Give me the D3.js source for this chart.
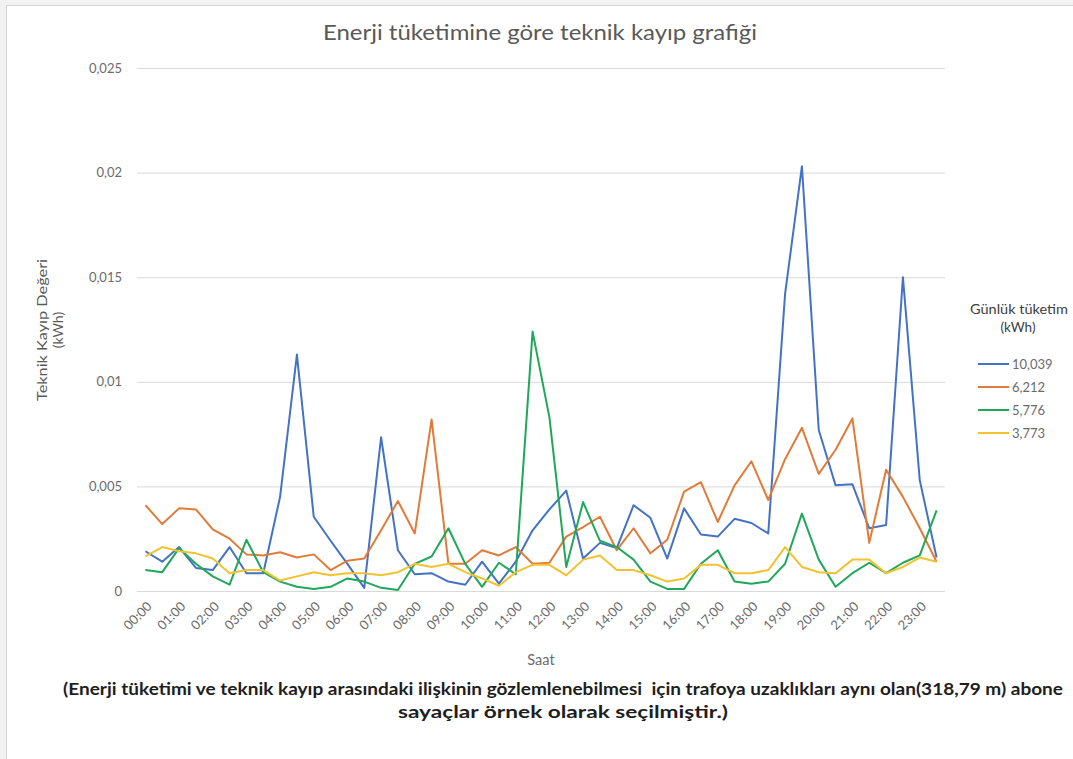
<!DOCTYPE html>
<html>
<head>
<meta charset="utf-8">
<script src="https://cdn.jsdelivr.net/npm/d3@7"></script>
<style>
  html, body { margin: 0; padding: 0; background: #f2f2f2; }
  svg { display: block; }
  text { font-family: "Lato", "Open Sans", sans-serif; }
</style>
</head>
<body>
<svg id="chart" width="1073" height="759"></svg>
<script>
// Half-hour time slots across the day
const times = ["00:00","00:30","01:00","01:30","02:00","02:30","03:00","03:30",
  "04:00","04:30","05:00","05:30","06:00","06:30","07:00","07:30",
  "08:00","08:30","09:00","09:30","10:00","10:30","11:00","11:30",
  "12:00","12:30","13:00","13:30","14:00","14:30","15:00","15:30",
  "16:00","16:30","17:00","17:30","18:00","18:30","19:00","19:30",
  "20:00","20:30","21:00","21:30","22:00","22:30","23:00","23:30"];

// Technical loss (kWh) per slot, one array per subscriber meter
const loss10039 = [0.0019,0.0014,0.0021,0.0011,0.0010,0.0021,0.00085,0.00085,
  0.0045,0.0113,0.00355,0.0024,0.0013,0.00015,0.00735,0.00195,
  0.0008,0.00085,0.00045,0.0003,0.0014,0.00035,0.0014,0.0029,
  0.0039,0.0048,0.00155,0.0023,0.00205,0.0041,0.0035,0.00155,
  0.00395,0.0027,0.0026,0.00345,0.00325,0.00275,0.0142,0.0203,
  0.0077,0.00505,0.0051,0.0030,0.00315,0.0150,0.0053,0.0016];

const loss6212 = [0.0041,0.0032,0.00395,0.0039,0.00295,0.0025,0.00175,0.0017,
  0.00185,0.0016,0.00175,0.0010,0.00145,0.00155,0.0029,0.0043,
  0.00275,0.0082,0.0013,0.0013,0.00195,0.0017,0.0021,0.0013,
  0.00135,0.0026,0.00305,0.00355,0.00195,0.0030,0.0018,0.00245,
  0.00475,0.0052,0.0033,0.00505,0.0062,0.00435,0.0063,0.0078,
  0.0056,0.00675,0.00825,0.0023,0.0058,0.0045,0.0030,0.0014];

const loss5776 = [0.0010,0.0009,0.00205,0.0013,0.0007,0.0003,0.00245,0.0009,
  0.00045,0.0002,0.0001,0.0002,0.0006,0.00045,0.00015,0.00005,
  0.0013,0.00165,0.0030,0.0013,0.0002,0.00135,0.0008,0.0124,
  0.0083,0.00115,0.00425,0.0024,0.0021,0.0015,0.00045,0.0001,
  0.0001,0.0013,0.00195,0.00045,0.00035,0.00045,0.0013,0.0037,
  0.0015,0.0002,0.00085,0.00135,0.00085,0.00135,0.0017,0.00385];

const loss3773 = [0.00165,0.0021,0.0019,0.0018,0.00155,0.00085,0.0010,0.0010,
  0.0005,0.0007,0.0009,0.00075,0.00085,0.00085,0.00075,0.0009,
  0.0013,0.00115,0.0013,0.0009,0.0006,0.00025,0.0009,0.00125,
  0.00125,0.00075,0.0015,0.0017,0.0010,0.0010,0.00075,0.00045,
  0.0006,0.00125,0.00125,0.00085,0.00085,0.0010,0.0021,0.00115,
  0.0009,0.00085,0.0015,0.0015,0.00085,0.00115,0.0016,0.0014];

const seriesNames = ["10,039","6,212","5,776","3,773"];
const seriesValues = [loss10039, loss6212, loss5776, loss3773];
const seriesColors = ["#4472C4","#E07B39","#1FA85A","#F2C230"];

const yTicks = [0, 0.005, 0.01, 0.015, 0.02, 0.025];

const svg = d3.select("#chart");

// chart frame
svg.append("rect")
  .attr("x", 6.5).attr("y", 5.5).attr("width", 1080).attr("height", 770)
  .attr("fill", "#ffffff").attr("stroke", "#d4d4d4");

const plot = { left: 137, right: 945, top: 68, bottom: 591 };

const x = d3.scaleBand().domain(times).range([plot.left, plot.right]).padding(0);
const y = d3.scaleLinear().domain([0, 0.025]).range([plot.bottom, plot.top]);
const cx = t => x(t) + x.bandwidth() / 2;

const trFormat = d3.formatLocale({ decimal: ",", thousands: ".", grouping: [3], currency: ["", ""] }).format("~g");

// horizontal gridlines + value labels
const yAxis = d3.axisLeft(y).tickValues(yTicks).tickFormat(trFormat)
  .tickSize(-(plot.right - plot.left)).tickPadding(15);
const gy = svg.append("g").attr("transform", `translate(${plot.left},0)`).call(yAxis);
gy.select(".domain").remove();
gy.selectAll(".tick line").attr("stroke", "#d9d9d9").attr("stroke-width", 1);
gy.selectAll(".tick text").attr("fill", "#6b6b6b").style("font-size", "13px");

// hour labels along the bottom
const xAxis = d3.axisBottom(x).tickValues(times.filter((t, i) => i % 2 === 0)).tickSize(0);
const gx = svg.append("g").attr("transform", `translate(0,${plot.bottom})`).call(xAxis);
gx.select(".domain").remove();
gx.selectAll(".tick text")
  .attr("fill", "#6b6b6b").style("font-size", "13px")
  .attr("text-anchor", "end")
  .attr("x", 0).attr("y", 0).attr("dy", "0.35em")
  .attr("transform", "translate(4,13) rotate(-45)");

// series lines
const line = d3.line().x((d, i) => cx(times[i])).y(d => y(d));
seriesValues.forEach((vals, k) => {
  svg.append("path")
    .datum(vals)
    .attr("fill", "none")
    .attr("stroke", seriesColors[k])
    .attr("stroke-width", 2)
    .attr("stroke-linejoin", "round")
    .attr("d", line);
});

// title
svg.append("text").attr("x", 540).attr("y", 40).attr("text-anchor", "middle")
  .attr("fill", "#595959").style("font-size", "21px")
  .attr("textLength", 434).attr("lengthAdjust", "spacingAndGlyphs")
  .text("Enerji tüketimine göre teknik kayıp grafiği");

// axis titles
const yt = svg.append("g").attr("transform", "translate(49,330) rotate(-90)")
  .attr("fill", "#595959").style("font-size", "14px");
yt.append("text").attr("x", 0).attr("y", -2).attr("text-anchor", "middle")
  .attr("textLength", 142).attr("lengthAdjust", "spacingAndGlyphs")
  .text("Teknik Kayıp Değeri");
yt.append("text").attr("x", 0).attr("y", 14).attr("text-anchor", "middle")
  .text("(kWh)");

svg.append("text").attr("x", 541).attr("y", 665).attr("text-anchor", "middle")
  .attr("fill", "#6b6b6b").style("font-size", "14.5px").text("Saat");

// legend
const lg = svg.append("g");
lg.append("text").attr("x", 970).attr("y", 314).attr("text-anchor", "start")
  .attr("textLength", 98).attr("lengthAdjust", "spacingAndGlyphs")
  .attr("fill", "#404040").style("font-size", "14px").text("Günlük tüketim");
lg.append("text").attr("x", 1018).attr("y", 332).attr("text-anchor", "middle")
  .attr("fill", "#404040").style("font-size", "13.5px").text("(kWh)");
seriesNames.forEach((name, k) => {
  const yy = 364 + k * 23;
  lg.append("line").attr("x1", 978).attr("x2", 1009).attr("y1", yy).attr("y2", yy)
    .attr("stroke", seriesColors[k]).attr("stroke-width", 2);
  lg.append("text").attr("x", 1012).attr("y", yy + 5).attr("fill", "#6b6b6b")
    .style("font-size", "13px").text(name);
});

// footnote
const note = svg.append("g").attr("fill", "#1e1e1e").style("font-size", "17px").style("font-weight", "bold");
note.append("text").attr("x", 563).attr("y", 695).attr("text-anchor", "middle")
  .attr("xml:space", "preserve")
  .attr("textLength", 1000).attr("lengthAdjust", "spacingAndGlyphs")
  .text("(Enerji tüketimi ve teknik kayıp arasındaki ilişkinin gözlemlenebilmesi  için trafoya uzaklıkları aynı olan(318,79 m) abone");
note.append("text").attr("x", 563).attr("y", 718).attr("text-anchor", "middle")
  .attr("textLength", 330).attr("lengthAdjust", "spacingAndGlyphs")
  .text("sayaçlar örnek olarak seçilmiştir.)");
</script>
</body>
</html>
